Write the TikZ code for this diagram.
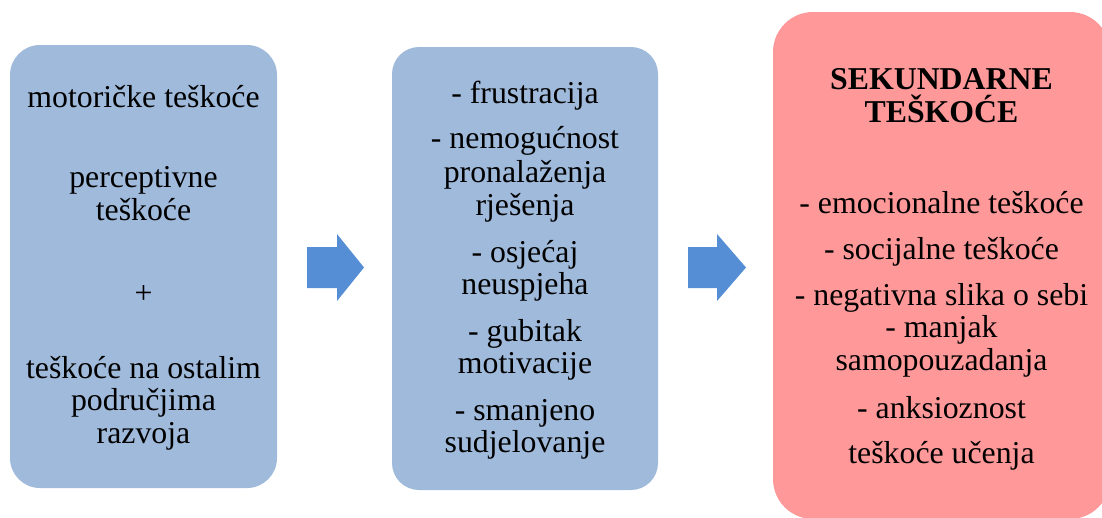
\documentclass[tikz,border=0pt]{standalone}
\usepackage{fontspec}
\setmainfont{Liberation Serif}
\definecolor{boxblue}{RGB}{160,186,219}
\definecolor{arrowblue}{RGB}{85,142,213}
\definecolor{boxpink}{RGB}{255,153,153}
\begin{document}
\begin{tikzpicture}[x=1pt,y=-1pt,
  panel/.style={rounded corners=#1, inner sep=0pt, outer sep=0pt, draw=none},
  txt/.style={anchor=base, inner sep=0pt, font=\fontsize{31.8}{34}\selectfont},
  blockarrow/.style={fill=arrowblue, draw=none}]
\useasboundingbox (0,0) rectangle (1102,517);
\clip (0,0) rectangle (1102,517);
% panels
\node[panel=30pt, fill=boxblue, minimum width=267, minimum height=443] (b1) at (143.5,266.5) {};
\node[panel=27pt, fill=boxblue, minimum width=266, minimum height=443] (b2) at (525,268.5) {};
\node[panel=40pt, fill=boxpink, minimum width=337, minimum height=507] (b3) at (941.5,265.5) {};
% block arrows
\coordinate (a1) at (307,267.5);
\coordinate (a2) at (688,267.5);
\fill[blockarrow] (a1) ++(0,-20.5) -- ++(30,0) -- ++(0,-13) -- ++(27,33.5) -- ++(-27,33.5) -- ++(0,-13) -- ++(-30,0) -- cycle;
\fill[blockarrow] (a2) ++(0,-20.5) -- ++(29,0) -- ++(0,-13) -- ++(29,33.5) -- ++(-29,33.5) -- ++(0,-13) -- ++(-29,0) -- cycle;
% box 1 text
\node[txt] (p1a) at (143.5,107) {motoričke teškoće};
\node[txt] (p1b) at (143.5,187) {perceptivne};
\node[txt] (p1c) at (143.5,220) {teškoće};
\node[txt] (p1d) at (143.5,303) {+};
\node[txt] (p1e) at (143.5,378) {teškoće na ostalim};
\node[txt] (p1f) at (143.5,410) {područjima};
\node[txt] (p1g) at (143.5,443) {razvoja};
% box 2 text
\node[txt] (p2a) at (525,103) {- frustracija};
\node[txt] (p2b) at (525,148) {- nemogućnost};
\node[txt] (p2c) at (525,182) {pronalaženja};
\node[txt] (p2d) at (525,215) {rješenja};
\node[txt] (p2e) at (525,262) {- osjećaj};
\node[txt] (p2f) at (525,294) {neuspjeha};
\node[txt] (p2g) at (525,341) {- gubitak};
\node[txt] (p2h) at (525,373) {motivacije};
\node[txt] (p2i) at (525,420) {- smanjeno};
\node[txt] (p2j) at (525,452) {sudjelovanje};
% box 3 text
\node[txt, font=\fontsize{31.8}{34}\selectfont\bfseries] (p3a) at (941.5,89) {SEKUNDARNE};
\node[txt, font=\fontsize{31.8}{34}\selectfont\bfseries] (p3b) at (941.5,122) {TEŠKOĆE};
\node[txt] (p3c) at (941.5,213) {- emocionalne teškoće};
\node[txt] (p3d) at (941.5,259) {- socijalne teškoće};
\node[txt] (p3e) at (941.5,305) {- negativna slika o sebi};
\node[txt] (p3f) at (941.5,337) {- manjak};
\node[txt] (p3g) at (941.5,370) {samopouzadanja};
\node[txt] (p3h) at (941.5,418) {- anksioznost};
\node[txt] (p3i) at (941.5,463) {teškoće učenja};
\end{tikzpicture}
\end{document}
